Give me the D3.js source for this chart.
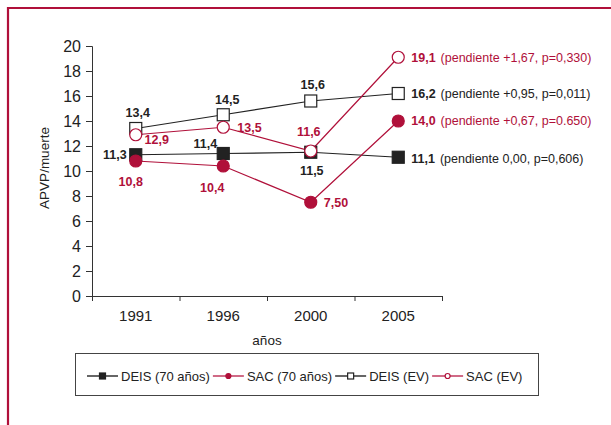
<!DOCTYPE html>
<html>
<head>
<meta charset="utf-8">
<script src="https://cdn.jsdelivr.net/npm/d3@7"></script>
<style>
  body { margin: 0; background: #fff; }
  svg { font-family: "Liberation Sans", Arial, sans-serif; }
</style>
</head>
<body>
<svg id="chart" width="611" height="425"></svg>
<script>
// data
const years = ["1991", "1996", "2000", "2005"];
const yTicks = [0, 2, 4, 6, 8, 10, 12, 14, 16, 18, 20];
const deis70 = [11.3, 11.4, 11.5, 11.1];
const sac70 = [10.8, 10.4, 7.5, 14.0];
const deisEV = [13.4, 14.5, 15.6, 16.2];
const sacEV = [12.9, 13.5, 11.6, 19.1];
const deis70Labels = ["11,3", "11,4", "11,5", "11,1"];
const sac70Labels = ["10,8", "10,4", "7,50", "14,0"];
const deisEVLabels = ["13,4", "14,5", "15,6", "16,2"];
const sacEVLabels = ["12,9", "13,5", "11,6", "19,1"];
const seriesNames = ["DEIS (70 años)", "SAC (70 años)", "DEIS (EV)", "SAC (EV)"];
const slopeNotes = [
  "(pendiente 0,00, p=0,606)",
  "(pendiente +0,67, p=0.650)",
  "(pendiente +0,95, p=0,011)",
  "(pendiente +1,67, p=0,330)"
];

const black = "#222";
const red = "#b0103a";

// label placement per point: [dx, dy, anchor]
const deis70Pos = [[-9, 0, "end"], [-6, -10, "end"], [1, 18, "middle"], [13, 1, "start"]];
const sac70Pos = [[-5, 21, "middle"], [-11, 22, "middle"], [13, 0, "start"], [13, 0, "start"]];
const deisEVPos = [[2, -16, "middle"], [4, -15, "middle"], [2, -16, "middle"], [13, 0, "start"]];
const sacEVPos = [[21, 5, "middle"], [14, 0, "start"], [-2, -19, "middle"], [13, 0, "start"]];

const series = [
  { name: seriesNames[0], values: deis70, labels: deis70Labels, pos: deis70Pos, color: black, shape: "square", filled: true, note: slopeNotes[0] },
  { name: seriesNames[1], values: sac70, labels: sac70Labels, pos: sac70Pos, color: red, shape: "circle", filled: true, note: slopeNotes[1] },
  { name: seriesNames[2], values: deisEV, labels: deisEVLabels, pos: deisEVPos, color: black, shape: "square", filled: false, note: slopeNotes[2] },
  { name: seriesNames[3], values: sacEV, labels: sacEVLabels, pos: sacEVPos, color: red, shape: "circle", filled: false, note: slopeNotes[3] }
];

const svg = d3.select("#chart");

// outer frame, cut off at the right and bottom
svg.append("path")
  .attr("d", "M8,440 V8 H640")
  .attr("fill", "none")
  .attr("stroke", red)
  .attr("stroke-width", 2.2);

const x = d3.scaleBand().domain(years).range([92, 442]);
const xEdges = d3.scaleLinear().domain([0, years.length]).range([92, 442]);
const y = d3.scaleLinear().domain([0, 20]).range([296, 46]);

const axisColor = "#333";

// y axis
const yAxis = svg.append("g")
  .attr("transform", "translate(92,0)")
  .call(d3.axisLeft(y).tickValues(yTicks).tickSize(6).tickSizeOuter(6).tickPadding(5));
yAxis.selectAll("path, line").attr("stroke", axisColor);
yAxis.selectAll("text").attr("font-size", 16).attr("fill", "#222").attr("font-family", null);

// x axis: ticks on band edges, labels at band centres
const xTickAxis = svg.append("g")
  .attr("transform", "translate(0,296)")
  .call(d3.axisBottom(xEdges).tickValues(d3.range(years.length + 1)).tickSize(5).tickSizeOuter(0).tickFormat(""));
xTickAxis.selectAll("path, line").attr("stroke", axisColor);

const xLabelAxis = svg.append("g")
  .attr("transform", "translate(0,296)")
  .call(d3.axisBottom(x).tickSize(0).tickPadding(14));
xLabelAxis.select(".domain").remove();
xLabelAxis.selectAll("text").attr("font-size", 15).attr("fill", "#222").attr("font-family", null);

// axis titles
svg.append("text")
  .attr("x", 267).attr("y", 345)
  .attr("text-anchor", "middle")
  .attr("font-size", 13.5).attr("fill", "#222")
  .text("años");

svg.append("text")
  .attr("transform", "translate(49,168) rotate(-90)")
  .attr("text-anchor", "middle")
  .attr("font-size", 13.5).attr("fill", "#222")
  .text("APVP/muerte");

const cx = (d, i) => x(years[i]) + x.bandwidth() / 2;
const line = d3.line().x(cx).y(d => y(d));

// lines
series.forEach(s => {
  svg.append("path")
    .attr("d", line(s.values))
    .attr("fill", "none")
    .attr("stroke", s.color)
    .attr("stroke-width", 1.2);
});

// markers
function drawMarker(g, s, px, py, size) {
  if (s.shape === "square") {
    g.append("rect")
      .attr("x", px - size / 2).attr("y", py - size / 2)
      .attr("width", size).attr("height", size)
      .attr("fill", s.filled ? s.color : "#fff")
      .attr("stroke", s.color).attr("stroke-width", 1.2);
  } else {
    g.append("circle")
      .attr("cx", px).attr("cy", py).attr("r", size / 2)
      .attr("fill", s.filled ? s.color : "#fff")
      .attr("stroke", s.color).attr("stroke-width", 1.2);
  }
}

series.forEach(s => {
  const g = svg.append("g");
  s.values.forEach((v, i) => drawMarker(g, s, cx(v, i), y(v), 12));
});

// value labels
series.forEach(s => {
  s.values.forEach((v, i) => {
    const [dx, dy, anchor] = s.pos[i];
    const t = svg.append("text")
      .attr("x", cx(v, i) + dx)
      .attr("y", y(v) + dy)
      .attr("dy", "0.35em")
      .attr("text-anchor", anchor)
      .attr("font-size", 12.5)
      .attr("fill", s.color);
    t.append("tspan").attr("font-weight", "bold").text(s.labels[i]);
    if (i === s.values.length - 1) {
      t.append("tspan").attr("dx", 5).attr("font-size", 12.5).text(s.note);
    }
  });
});

// legend
svg.append("rect")
  .attr("x", 75.5).attr("y", 353.5)
  .attr("width", 463).attr("height", 42)
  .attr("fill", "#fff")
  .attr("stroke", "#444").attr("stroke-width", 1);

let lx = 87;
const ly = 376;
series.forEach(s => {
  const g = svg.append("g");
  g.append("line")
    .attr("x1", lx).attr("x2", lx + 31)
    .attr("y1", ly).attr("y2", ly)
    .attr("stroke", s.color === black ? "#333" : "#c0395e").attr("stroke-width", 1.5);
  drawMarker(g, s, lx + 15.5, ly, s.shape === "square" ? 6 : 5);
  const t = g.append("text")
    .attr("x", lx + 34).attr("y", ly).attr("dy", "0.35em")
    .attr("font-size", 13).attr("fill", "#222")
    .text(s.name);
  lx += 34 + t.node().getComputedTextLength() + 3;
});
</script>
</body>
</html>
